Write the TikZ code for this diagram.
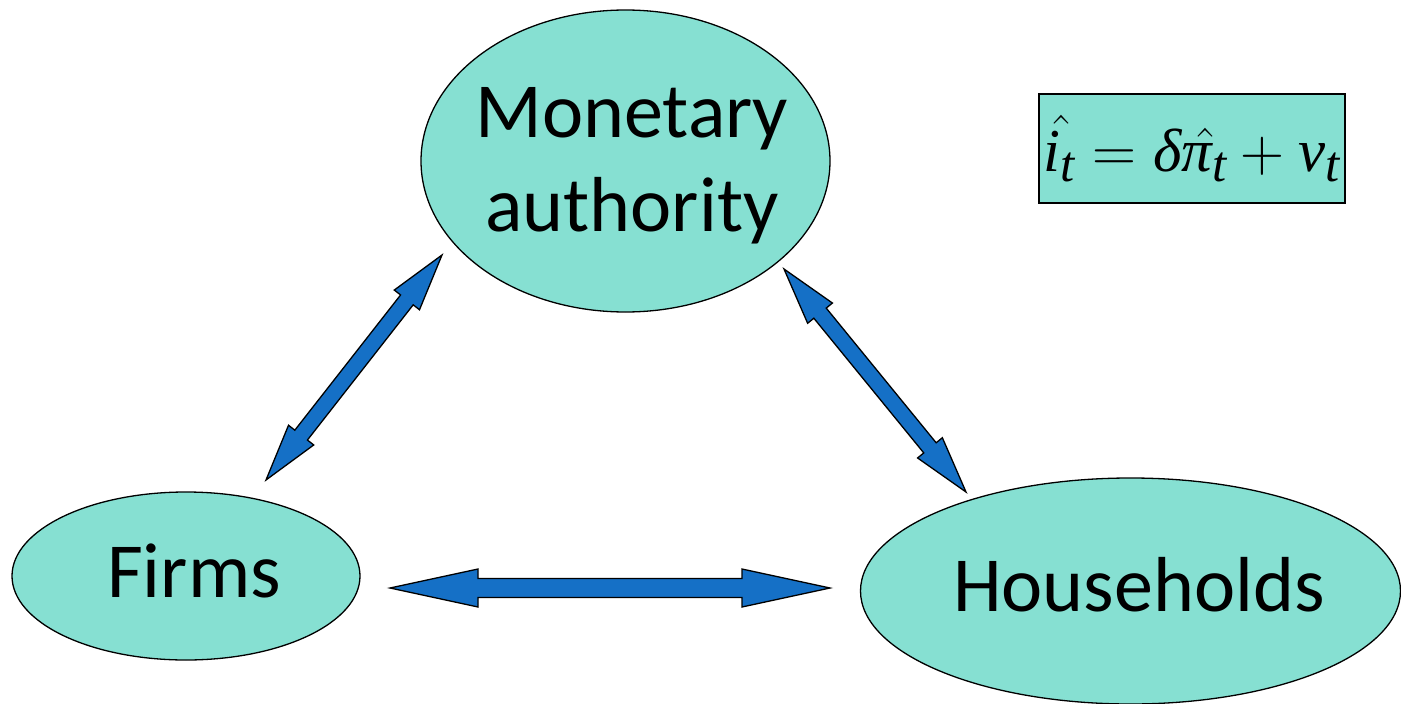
\documentclass[tikz,border=0pt]{standalone}
\usepackage{amsmath}
\usepackage{fontspec}
\newfontfamily\calib{Carlito}
\newfontfamily\tnr{Liberation Serif}
\newcommand{\tv}[1]{\text{\tnr\itshape #1}}
\usetikzlibrary{shapes.geometric,calc}
\definecolor{tealfill}{HTML}{86E0D2}
\definecolor{arrowblue}{HTML}{1570C6}
\tikzset{
  agent/.style={ellipse, draw=black, line width=1.3pt, fill=tealfill, inner sep=0pt},
  agenttext/.style={inner sep=0pt, font=\calib\fontsize{78}{94}\selectfont, align=center},
  formulabox/.style={rectangle, draw=black, line width=1.3pt, fill=tealfill, inner sep=0pt,
     minimum width=306pt, minimum height=109pt},
  blockarrow/.style={draw=black, line width=1.3pt, fill=arrowblue, line join=miter}
}
% #1 start, #2 end, #3 shaft half width, #4 head half width, #5 head length
\newcommand{\blockarr}[5]{%
  \coordinate (h1) at ($(#1)!#5!(#2)$);
  \coordinate (h2) at ($(#2)!#5!(#1)$);
  \path[blockarrow] (#1) -- ($(h1)!#4!90:(#1)$) -- ($(h1)!#3!90:(#1)$)
     -- ($(h2)!#3!-90:(#2)$) -- ($(h2)!#4!-90:(#2)$) -- (#2)
     -- ($(h2)!#4!90:(#2)$) -- ($(h2)!#3!90:(#2)$)
     -- ($(h1)!#3!-90:(#1)$) -- ($(h1)!#4!-90:(#1)$) -- cycle;
}
\begin{document}
\begin{tikzpicture}[x=1pt,y=-1pt]
\useasboundingbox (0,0) rectangle (1401,704);
\node[agent, minimum width=409pt, minimum height=302pt] (ma) at (625.5,161) {};
\node[agenttext] (mat) at (632,166) {Monetary\\authority};
\node[agent, minimum width=348pt, minimum height=168pt] (firms) at (186,576) {};
\node[agenttext] (firmst) at (194,571) {Firms};
\node[agent, minimum width=540pt, minimum height=226pt] (hh) at (1130.5,591) {};
\node[agenttext] (hht) at (1139,585) {Households};
\node[formulabox] (eq) at (1192,148.5)
  {\scalebox{2.45}{\Huge$\skew{6}\hat{\tv{i}}_{\tv{t}}=\tv{δ}\skew{5}\hat{\tv{π}}_{\tv{t}}+\tv{v}_{\tv{t}}$}};
% connector end points
\coordinate (fm1) at (266,480);
\coordinate (fm2) at (442,255);
\coordinate (mh1) at (784,269);
\coordinate (mh2) at (966,492);
\coordinate (fh1) at (390,588);
\coordinate (fh2) at (830,588);
\blockarr{fm1}{fm2}{8pt}{16pt}{57pt}
\blockarr{mh1}{mh2}{8pt}{16pt}{57pt}
\blockarr{fh1}{fh2}{9.5pt}{19pt}{88pt}
\end{tikzpicture}
\end{document}
